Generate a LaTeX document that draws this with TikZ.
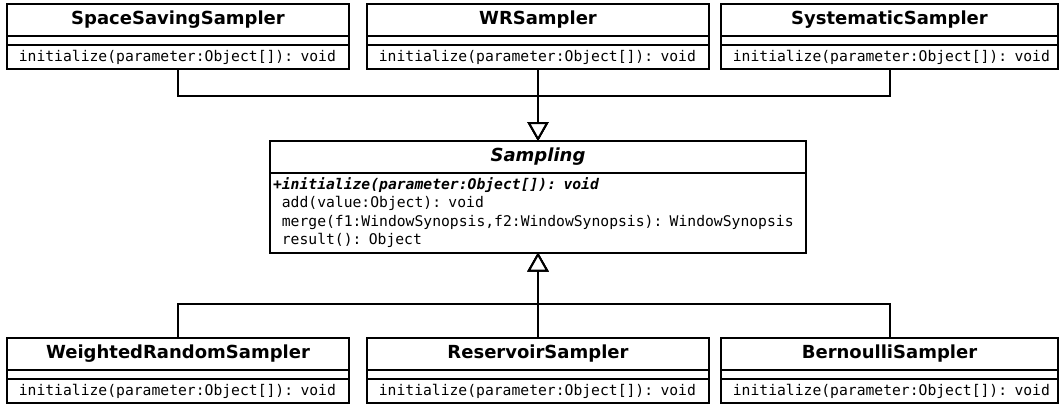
\documentclass[tikz,border=0pt]{standalone}
\usepackage{fontspec}
\setmainfont{DejaVu Sans}
\newfontfamily\umlmono{DejaVu Sans Mono}
\usetikzlibrary{arrows.meta}

% indentation of a non-public operation: the width of a visibility mark
\newcommand\opind{\phantom{+}}

% a concrete class: name, empty attribute part, one operation
% #1 name prefix, #2 x, #3 y (top left), #4 width, #5 text width, #6 class name
\newcommand\umlclass[6]{%
  \node[clsname, minimum width=#4] (#1) at (#2,#3) {#6};
  \node[clsattr, minimum width=#4] (#1a) at (#1.south west) {};
  \node[clsops, text width=#5] (#1m) at (#1a.south west)
    {\opind initialize(parameter:Object[]): void};
}

\begin{document}
\begin{tikzpicture}[x=1pt, y=-1pt,
  part/.style={draw, line width=2pt, inner sep=0pt, outer sep=0pt,
    anchor=north west},
  clsname/.style={part, minimum height=31.5pt,
    font=\fontsize{18}{20}\selectfont\bfseries},
  clsattr/.style={part, minimum height=9.5pt},
  clsops/.style={part, minimum height=24pt, align=left, inner xsep=3pt,
    font=\umlmono\fontsize{14.7}{18.3}\selectfont},
  gen/.style={line width=2pt,
    -{Triangle[open, length=19pt, width=21pt, fill=white]}},
]
\useasboundingbox (0,0) rectangle (1060,405);

% subclasses above
\umlclass{ss}{7}{4}{342pt}{336pt}{SpaceSavingSampler}
\umlclass{wr}{367}{4}{342pt}{336pt}{WRSampler}
\umlclass{sy}{721}{4}{337pt}{331pt}{SystematicSampler}

% abstract base class
\node[clsname, minimum width=536pt, font=\fontsize{18}{20}\selectfont\bfseries\itshape]
  (sam) at (270,141) {Sampling};
\node[clsops, text width=530pt, minimum height=80pt] (samm) at (sam.south west)
  {{\bfseries\itshape +initialize(parameter:Object[]): void}\\
   \opind add(value:Object): void\\
   \opind merge(f1:WindowSynopsis,f2:WindowSynopsis): WindowSynopsis\\
   \opind result(): Object};

% subclasses below
\umlclass{wrs}{7}{338}{342pt}{336pt}{WeightedRandomSampler}
\umlclass{rs}{367}{338}{342pt}{336pt}{ReservoirSampler}
\umlclass{bs}{721}{338}{337pt}{331pt}{BernoulliSampler}

% generalization connectors
\coordinate (upj) at (538,95.7);
\coordinate (dnj) at (538,304);
\draw[gen] (ssm.south) |- (upj) -- (sam.north);
\draw[gen] (sym.south) |- (upj) -- (sam.north);
\draw[gen] (wrm.south) -- (sam.north);
\draw[gen] (wrs.north) |- (dnj) -- (samm.south);
\draw[gen] (bs.north) |- (dnj) -- (samm.south);
\draw[gen] (rs.north) -- (samm.south);
\end{tikzpicture}
\end{document}
